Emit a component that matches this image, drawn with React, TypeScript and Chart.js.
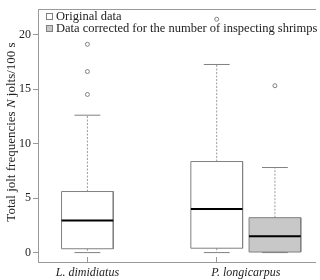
import React, { useEffect, useRef } from 'react';
import { Chart, registerables } from 'chart.js';

Chart.register(...registerables);

const categories = ['L. dimidiatus', 'P. longicarpus'];
const seriesNames = ['Original data', 'Data corrected for the number of inspecting shrimps'];
const seriesFill = ['#ffffff', '#c8c8c8'];

const originalMin = [0, 0];
const originalQ1 = [0.35, 0.4];
const originalMedian = [2.95, 4.0];
const originalQ3 = [5.6, 8.35];
const originalMax = [12.6, 17.25];
const originalOutliers = [[14.5, 16.6, 19.1], [21.4]];

const correctedMin = [null, 0];
const correctedQ1 = [null, 0.05];
const correctedMedian = [null, 1.5];
const correctedQ3 = [null, 3.2];
const correctedMax = [null, 7.8];
const correctedOutliers = [[], [15.3]];

const yTicks = [0, 5, 10, 15, 20];

const FONT = 'Liberation Serif';
const AXIS = '#9a9a9a';
const BOX = '#808080';
const TEXT = '#222222';
const DODGE = 0.45;
const HALF = 0.2;
const CAP = 0.1;

type S = {
  min: (number | null)[];
  q1: (number | null)[];
  med: (number | null)[];
  q3: (number | null)[];
  max: (number | null)[];
  out: number[][];
};

const series: S[] = [
  { min: originalMin, q1: originalQ1, med: originalMedian, q3: originalQ3, max: originalMax, out: originalOutliers },
  { min: correctedMin, q1: correctedQ1, med: correctedMedian, q3: correctedQ3, max: correctedMax, out: correctedOutliers },
];

function buildDatasets() {
  const ds: any[] = [];
  const line = (data: any[], extra: any) => ({
    data,
    showLine: true,
    fill: false,
    pointRadius: 0,
    borderWidth: 1,
    borderColor: BOX,
    ...extra,
  });
  series.forEach((s, si) => {
    categories.forEach((_c, ci) => {
      const med = s.med[ci];
      if (med == null) return;
      const q1 = s.q1[ci] as number;
      const q3 = s.q3[ci] as number;
      const mn = s.min[ci] as number;
      const mx = s.max[ci] as number;
      const x = ci + 1 + si * DODGE;
      const L = x - HALF;
      const R = x + HALF;
      ds.push(line([{ x: L, y: q3 }, { x: R, y: q3 }], {
        fill: { value: q1 },
        backgroundColor: seriesFill[si],
        borderWidth: 0,
        borderColor: 'rgba(0,0,0,0)',
        order: 6,
      }));
      if (mx > q3) {
        ds.push(line([{ x, y: q3 }, { x, y: mx }], { borderDash: [2, 1.5], borderColor: AXIS, order: 5 }));
        ds.push(line([{ x: x - CAP, y: mx }, { x: x + CAP, y: mx }], { order: 5 }));
      }
      if (mn < q1) {
        ds.push(line([{ x, y: q1 }, { x, y: mn }], { borderDash: [2, 1.5], borderColor: AXIS, order: 5 }));
        ds.push(line([{ x: x - CAP, y: mn }, { x: x + CAP, y: mn }], { order: 5 }));
      }
      ds.push(line([{ x: L, y: q1 }, { x: L, y: q3 }, { x: R, y: q3 }, { x: R, y: q1 }, { x: L, y: q1 }], { order: 3 }));
      ds.push(line([{ x: L, y: med }, { x: R, y: med }], { borderColor: '#000000', borderWidth: 2, order: 2 }));
      if (s.out[ci].length) {
        ds.push({
          data: s.out[ci].map((y) => ({ x, y })),
          showLine: false,
          pointRadius: 2,
          pointBorderWidth: 1,
          pointBorderColor: BOX,
          pointBackgroundColor: '#ffffff',
          order: 1,
        });
      }
    });
  });
  return ds;
}

// x ticks: marks at the original-data positions, labels at the centre of each group
const tickValues: number[] = [];
const tickLabels: string[] = [];
const tickMarks: boolean[] = [];
categories.forEach((c, ci) => {
  const positions = series
    .map((s, si) => (s.med[ci] == null ? null : ci + 1 + si * DODGE))
    .filter((v) => v != null) as number[];
  const centre = positions.reduce((a, b) => a + b, 0) / positions.length;
  const mark = ci + 1;
  if (Math.abs(centre - mark) < 1e-9) {
    tickValues.push(mark); tickLabels.push(c); tickMarks.push(true);
  } else {
    tickValues.push(mark); tickLabels.push(''); tickMarks.push(true);
    tickValues.push(centre); tickLabels.push(c); tickMarks.push(false);
  }
});

const overlay = {
  id: 'overlay',
  afterDraw(chart: any) {
    const ctx = chart.ctx as CanvasRenderingContext2D;
    ctx.save();
    // legend
    ctx.font = `12.5px "${FONT}"`;
    ctx.textBaseline = 'middle';
    ctx.textAlign = 'left';
    seriesNames.forEach((name, i) => {
      const cy = 16.5 + i * 12;
      ctx.fillStyle = seriesFill[i];
      ctx.fillRect(46.5, cy - 3, 6, 6);
      ctx.strokeStyle = BOX;
      ctx.lineWidth = 1;
      ctx.strokeRect(46.5, cy - 3, 6, 6);
      ctx.fillStyle = TEXT;
      ctx.fillText(name, 56, cy);
    });
    // y-axis title with italic N
    const parts = [
      { t: 'Total jolt frequencies ', it: false },
      { t: 'N', it: true },
      { t: ' jolts/100 s', it: false },
    ];
    const fontOf = (it: boolean) => `${it ? 'italic ' : ''}13px "${FONT}"`;
    let total = 0;
    parts.forEach((p) => { ctx.font = fontOf(p.it); total += ctx.measureText(p.t).width; });
    ctx.translate(12, 132);
    ctx.rotate(-Math.PI / 2);
    let x = -total / 2;
    ctx.fillStyle = TEXT;
    parts.forEach((p) => {
      ctx.font = fontOf(p.it);
      ctx.fillText(p.t, x, 0);
      x += ctx.measureText(p.t).width;
    });
    ctx.restore();
  },
};

export default function App() {
  const ref = useRef<HTMLCanvasElement | null>(null);
  useEffect(() => {
    if (!ref.current) return;
    const chart = new Chart(ref.current, {
      type: 'scatter',
      data: { datasets: buildDatasets() },
      options: {
        responsive: false,
        animation: false,
        layout: { padding: 0 },
        plugins: { legend: { display: false }, tooltip: { enabled: false } },
        scales: {
          x: {
            type: 'linear',
            position: 'bottom',
            min: 0.618,
            max: 2.76,
            afterBuildTicks: (scale: any) => { scale.ticks = tickValues.map((v) => ({ value: v })); },
            afterFit: (scale: any) => { scale.height = 18; },
            ticks: {
              autoSkip: false,
              maxRotation: 0,
              padding: 9,
              color: TEXT,
              font: { family: FONT, size: 12, style: 'italic' },
              callback: (_v: any, i: number) => tickLabels[i],
            },
            grid: {
              drawOnChartArea: false,
              drawTicks: true,
              tickLength: -5,
              tickColor: (ctx: any) => (tickMarks[ctx.index] ? AXIS : 'rgba(0,0,0,0)'),
            },
            border: { color: AXIS, width: 1 },
          },
          x2: {
            type: 'linear',
            position: 'top',
            axis: 'x',
            display: true,
            afterFit: (scale: any) => { scale.height = 7; },
            ticks: { display: false },
            grid: { display: false, drawTicks: false },
            border: { color: AXIS, width: 1 },
          },
          y: {
            min: -0.864,
            max: 22.32,
            afterBuildTicks: (scale: any) => { scale.ticks = yTicks.map((v) => ({ value: v })); },
            afterFit: (scale: any) => { scale.width = 38; },
            ticks: { padding: 2, color: TEXT, font: { family: FONT, size: 12 } },
            grid: { drawOnChartArea: false, drawTicks: true, tickLength: 5, tickColor: AXIS },
            border: { color: AXIS, width: 1 },
          },
        },
      },
      plugins: [overlay],
    } as any);
    return () => chart.destroy();
  }, []);
  return (
    <div style={{ position: 'fixed', left: 0, top: 0, width: 320, height: 280, background: '#fff' }}>
      <canvas ref={ref} width={320} height={280} style={{ width: 320, height: 280, display: 'block' }} />
    </div>
  );
}
